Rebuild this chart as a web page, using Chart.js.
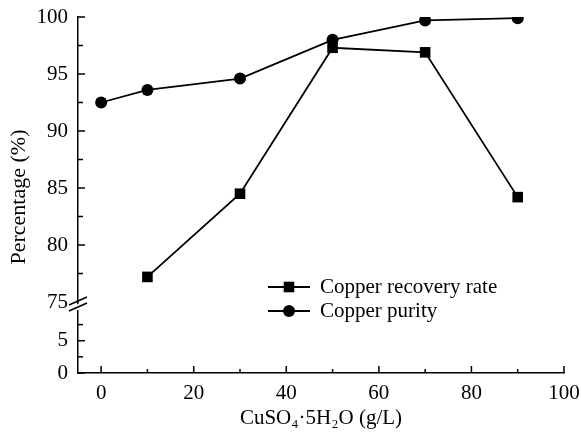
<!DOCTYPE html>
<html><head><meta charset="utf-8">
<script src="https://cdn.jsdelivr.net/npm/chart.js@4"></script>
<style>html,body{margin:0;padding:0;background:#fff}#wrap{width:581px;height:433px}</style>
</head><body><div id="wrap"><canvas id="c" width="581" height="433"></canvas></div>
<script>
const concentrations = [0, 10, 30, 50, 70, 90];
const recoveryRate = [null, 77.2, 84.5, 97.3, 96.9, 84.2];
const copperPurity = [92.5, 93.6, 94.6, 98.0, 99.7, 99.9];
const xTicks = [0, 10, 20, 30, 40, 50, 60, 70, 80, 90, 100];
const xTickLabels = ['0', '', '20', '', '40', '', '60', '', '80', '', '100'];
const upperTicks = [75, 77.5, 80, 82.5, 85, 87.5, 90, 92.5, 95, 97.5, 100];
const upperTickLabels = ['75', '', '80', '', '85', '', '90', '', '95', '', '100'];
const lowerTicks = [0, 2.5, 5, 7.5];
const lowerTickLabels = ['0', '', '5', ''];
const seriesNames = ['Copper recovery rate', 'Copper purity'];
const xTitle = 'CuSO\u2084\u00B75H\u2082O (g/L)';
const yTitle = 'Percentage (%)';

const FONT = 'Liberation Serif, Times New Roman, serif';
Chart.defaults.color = '#000';
Chart.defaults.font.family = FONT;

const toPoints = vals => concentrations.map((x, i) => ({x, y: vals[i]})).filter(p => p.y !== null);

function line(ctx, x1, y1, x2, y2) { ctx.beginPath(); ctx.moveTo(x1, y1); ctx.lineTo(x2, y2); ctx.stroke(); }
function noPad(s) { s.paddingLeft = 0; s.paddingRight = 0; s.paddingTop = 0; s.paddingBottom = 0; }

const decorations = {
  id: 'decorations',
  afterDraw(chart) {
    const ctx = chart.ctx;
    const xs = chart.scales.x, ys = chart.scales.y, ys2 = chart.scales.y2;
    ctx.save();
    ctx.strokeStyle = '#000';
    ctx.lineWidth = 1.5;
    // inward tick marks
    xs.ticks.forEach((t, i) => {
      const px = xs.getPixelForValue(t.value);
      line(ctx, px, xs.top, px, xs.top - (xTickLabels[i] ? 7 : 4));
    });
    ys.ticks.forEach((t, i) => {
      if (t.value === ys.min) return;
      const py = ys.getPixelForValue(t.value);
      line(ctx, ys.right, py, ys.right + (upperTickLabels[i] ? 7 : 5), py);
    });
    ys2.ticks.forEach((t, i) => {
      const py = ys2.getPixelForValue(t.value);
      line(ctx, ys2.right, py, ys2.right + (lowerTickLabels[i] ? 7 : 5), py);
    });
    // axis break
    const bx = ys.right, by = ys.bottom + 2;
    ctx.fillStyle = '#fff';
    ctx.beginPath();
    ctx.moveTo(bx - 2, by + 1); ctx.lineTo(bx + 2, by - 1); ctx.lineTo(bx + 2, by + 5); ctx.lineTo(bx - 2, by + 7);
    ctx.closePath(); ctx.fill();
    line(ctx, bx - 9, by + 1, bx + 9, by - 7);
    line(ctx, bx - 9, by + 7, bx + 9, by - 1);
    // y title
    ctx.save();
    ctx.translate(19, (chart.chartArea.top + chart.chartArea.bottom) / 2 + 2);
    ctx.rotate(-Math.PI / 2);
    ctx.fillStyle = '#000';
    ctx.font = '22px ' + FONT;
    ctx.textAlign = 'center';
    ctx.textBaseline = 'middle';
    ctx.fillText(yTitle, 0, 0);
    ctx.restore();
    // legend
    const lx = 268, ly = 287, rowH = 24;
    chart.data.datasets.forEach((ds, i) => {
      const y = ly + i * rowH;
      ctx.strokeStyle = ds.borderColor;
      ctx.fillStyle = ds.backgroundColor;
      ctx.lineWidth = ds.borderWidth;
      line(ctx, lx, y, lx + 42, y);
      Chart.helpers.drawPoint(ctx, {pointStyle: ds.pointStyle, radius: ds.pointRadius, borderWidth: 0}, lx + 21, y);
      ctx.fillStyle = '#000';
      ctx.font = '21px ' + FONT;
      ctx.textAlign = 'left';
      ctx.textBaseline = 'middle';
      ctx.fillText(ds.label, lx + 52, y);
    });
    ctx.restore();
  }
};

const tickFont = {family: FONT, size: 21};

new Chart(document.getElementById('c'), {
  type: 'line',
  data: {
    datasets: [
      {label: seriesNames[0], data: toPoints(recoveryRate), yAxisID: 'y', borderColor: '#000', backgroundColor: '#000',
       borderWidth: 1.8, pointStyle: 'rect', pointRadius: 7.5, pointBorderWidth: 0, tension: 0},
      {label: seriesNames[1], data: toPoints(copperPurity), yAxisID: 'y', borderColor: '#000', backgroundColor: '#000',
       borderWidth: 1.8, pointStyle: 'circle', pointRadius: 6, pointBorderWidth: 0, tension: 0}
    ]
  },
  options: {
    responsive: false,
    devicePixelRatio: 1,
    animation: false,
    layout: {padding: {top: 17, right: 17, left: 0, bottom: 0}},
    plugins: {legend: {display: false}, tooltip: {enabled: false}},
    scales: {
      x: {
        type: 'linear', min: -5, max: 100,
        afterBuildTicks: s => { s.ticks = xTicks.map(v => ({value: v})); },
        afterFit: s => { s.height = 60; noPad(s); },
        ticks: {autoSkip: false, maxRotation: 0, padding: 8, font: tickFont, callback: (v, i) => xTickLabels[i]},
        grid: {drawOnChartArea: false, drawTicks: false},
        border: {color: '#000', width: 1.5},
        title: {display: true, text: xTitle, font: tickFont, padding: {top: 0, bottom: 2}}
      },
      y: {
        type: 'linear', position: 'left', stack: 'pct', stackWeight: 285, weight: 1,
        min: 75, max: 100,
        afterBuildTicks: s => { s.ticks = upperTicks.map(v => ({value: v})); },
        afterFit: s => { s.width = 78; noPad(s); },
        ticks: {autoSkip: false, padding: 10, font: tickFont, callback: (v, i) => upperTickLabels[i]},
        grid: {drawOnChartArea: false, drawTicks: false},
        border: {color: '#000', width: 1.5}
      },
      y2: {
        type: 'linear', position: 'left', stack: 'pct', stackWeight: 71, weight: 0,
        min: 0, max: 11,
        afterBuildTicks: s => { s.ticks = lowerTicks.map(v => ({value: v})); },
        afterFit: s => { s.width = 78; noPad(s); },
        ticks: {autoSkip: false, padding: 10, font: tickFont, callback: (v, i) => lowerTickLabels[i]},
        grid: {drawOnChartArea: false, drawTicks: false},
        border: {color: '#000', width: 1.5}
      }
    }
  },
  plugins: [decorations]
});
</script></body></html>
